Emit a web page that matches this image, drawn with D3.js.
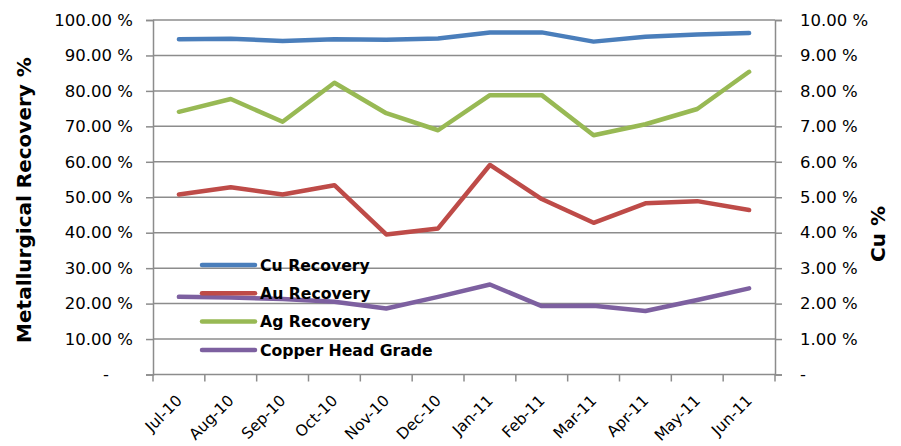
<!DOCTYPE html>
<html><head><meta charset="utf-8">
<script src="https://cdn.jsdelivr.net/npm/d3@7"></script>
<style>body{margin:0;background:#fff}svg{display:block}</style>
</head><body>
<svg id="c" width="901" height="446"></svg>
<script>
const months = ["Jul-10","Aug-10","Sep-10","Oct-10","Nov-10","Dec-10","Jan-11","Feb-11","Mar-11","Apr-11","May-11","Jun-11"];
const cuRecovery = [94.6,94.7,94.1,94.6,94.4,94.8,96.5,96.5,93.9,95.3,95.9,96.3];
const auRecovery = [50.8,52.8,50.8,53.4,39.5,41.2,59.1,49.5,42.8,48.3,48.9,46.4];
const agRecovery = [74.1,77.7,71.3,82.3,73.7,68.9,78.8,78.8,67.5,70.6,74.9,85.4];
const copperHeadGrade = [2.19,2.17,2.13,2.05,1.86,2.19,2.54,1.93,1.94,1.79,2.10,2.43];
const leftTicks = [0,10,20,30,40,50,60,70,80,90,100];
const rightTicks = [0,1,2,3,4,5,6,7,8,9,10];

const svg = d3.select("#c");
const L = 153, R = 775, T = 20, B = 374.5;
const font = "'DejaVu Sans', sans-serif";
const grid = "#8c8c8c";

const x = d3.scaleBand().domain(months).range([L, R]);
const yL = d3.scaleLinear().domain([0, 100]).range([B, T]);
const yR = d3.scaleLinear().domain([0, 10]).range([B, T]);

// gridlines
svg.append("g").selectAll("line").data(leftTicks.filter(d => d > 0)).join("line")
  .attr("x1", L).attr("x2", R).attr("y1", d => yL(d)).attr("y2", d => yL(d))
  .attr("stroke", grid).attr("stroke-width", 1.5);

// left axis
const gl = svg.append("g").attr("transform", `translate(${L},0)`)
  .call(d3.axisLeft(yL).tickValues(leftTicks).tickSize(7).tickPadding(13)
    .tickFormat(d => d === 0 ? "-" : d.toFixed(2) + " %"));
// right axis
const gr = svg.append("g").attr("transform", `translate(${R},0)`)
  .call(d3.axisRight(yR).tickValues(rightTicks).tickSize(7).tickPadding(18)
    .tickFormat(d => d === 0 ? "-" : d.toFixed(2) + " %"));
// bottom axis
const gb = svg.append("g").attr("transform", `translate(0,${B})`)
  .call(d3.axisBottom(x).tickSize(0).tickFormat(d => d));
// boundary ticks
const bounds = d3.range(months.length + 1).map(i => L + i * x.bandwidth());
svg.append("g").selectAll("line").data(bounds).join("line")
  .attr("x1", d => d).attr("x2", d => d).attr("y1", B).attr("y2", B + 7)
  .attr("stroke", grid).attr("stroke-width", 1.5);

[gl, gr, gb].forEach(g => {
  g.select(".domain").attr("stroke", grid).attr("stroke-width", 1.5);
  g.selectAll(".tick line").attr("stroke", grid).attr("stroke-width", 1.5);
  g.selectAll("text").attr("font-family", font).attr("font-size", 16.5).attr("fill", "#000");
});
gl.selectAll(".tick text").filter(d => d === 0).attr("dx", -24);
gb.select(".domain").attr("d", `M${L},0H${R}`);
gb.selectAll(".tick text")
  .attr("text-anchor", "end")
  .attr("font-size", 15.5)
  .attr("transform", "translate(4,27) rotate(-45)")
  .attr("dy", 0).attr("y", 0).attr("x", 0);

// lines
const series = [
  {name: "Cu Recovery", vals: cuRecovery, color: "#4a7ebb", y: yL},
  {name: "Au Recovery", vals: auRecovery, color: "#be4b48", y: yL},
  {name: "Ag Recovery", vals: agRecovery, color: "#98b954", y: yL},
  {name: "Copper Head Grade", vals: copperHeadGrade, color: "#7d60a0", y: yR}
];
series.forEach(s => {
  const line = d3.line().x((d, i) => x(months[i]) + x.bandwidth() / 2).y(d => s.y(d));
  svg.append("path").attr("d", line(s.vals)).attr("fill", "none")
    .attr("stroke", s.color).attr("stroke-width", 4.5)
    .attr("stroke-linejoin", "round").attr("stroke-linecap", "round");
});

// legend
const lg = svg.append("g");
series.forEach((s, i) => {
  const yy = 265 + i * 28.3;
  lg.append("line").attr("x1", 202).attr("x2", 255).attr("y1", yy).attr("y2", yy)
    .attr("stroke", s.color).attr("stroke-width", 4.5).attr("stroke-linecap", "round");
  lg.append("text").attr("x", 260).attr("y", yy).attr("dy", "0.36em")
    .attr("font-family", font).attr("font-weight", "bold").attr("font-size", 15.7)
    .text(s.name);
});

// axis titles
svg.append("text").attr("transform", "translate(31,200) rotate(-90)")
  .attr("text-anchor", "middle").attr("font-family", font).attr("font-weight", "bold")
  .attr("font-size", 20).text("Metallurgical Recovery %");
svg.append("text").attr("transform", "translate(885,234) rotate(-90)")
  .attr("text-anchor", "middle").attr("font-family", font).attr("font-weight", "bold")
  .attr("font-size", 20).text("Cu %");
</script>
</body></html>
